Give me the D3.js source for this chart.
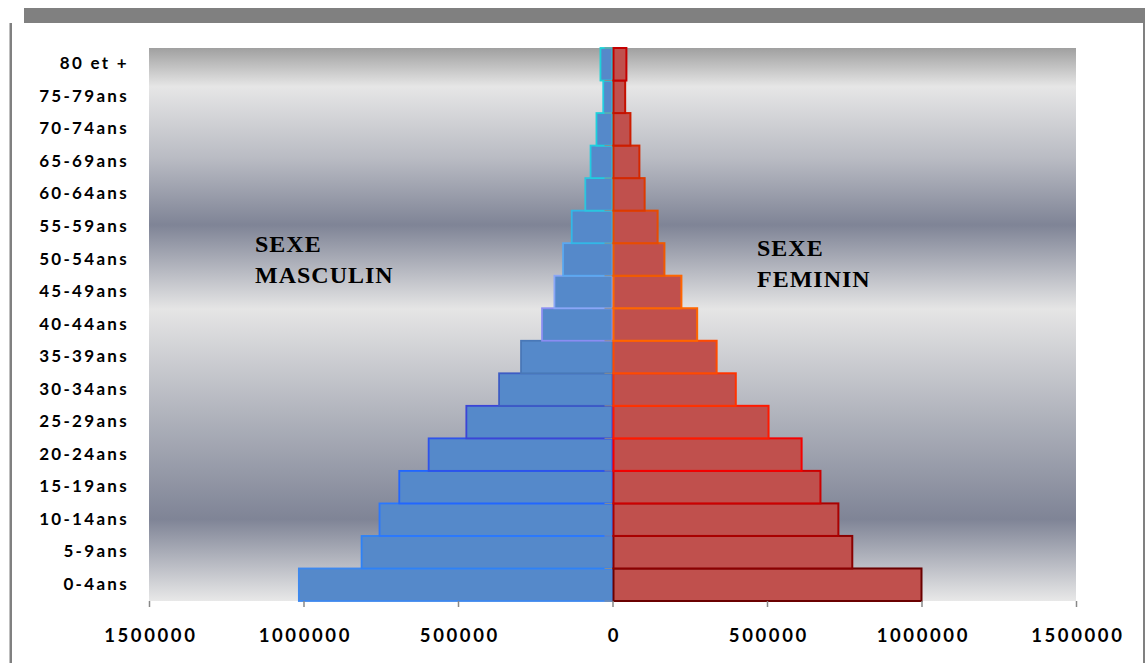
<!DOCTYPE html>
<html>
<head>
<meta charset="utf-8">
<script src="https://cdn.jsdelivr.net/npm/d3@7"></script>
<style>
  html, body { margin: 0; padding: 0; background: #ffffff; }
  svg { display: block; }
</style>
</head>
<body>
<svg id="chart" width="1145" height="663"></svg>
<script>
// Age groups, youngest first
const ageGroups = ["0-4ans", "5-9ans", "10-14ans", "15-19ans", "20-24ans", "25-29ans",
  "30-34ans", "35-39ans", "40-44ans", "45-49ans", "50-54ans", "55-59ans",
  "60-64ans", "65-69ans", "70-74ans", "75-79ans", "80 et +"];

// Population by age group
const male = [1015000, 812000, 754000, 690000, 595000, 473000, 367000, 296000, 228000,
  188000, 160000, 132000, 88000, 71000, 52000, 30000, 39000];
const female = [1000000, 776000, 731000, 673000, 612000, 505000, 399000, 337000, 274000,
  223000, 168000, 146000, 104000, 87000, 58000, 41000, 45000];

// Axis tick values
const xTicks = [-1500000, -1000000, -500000, 0, 500000, 1000000, 1500000];

// Side captions
const maleCaption = ["SEXE", "MASCULIN"];
const femaleCaption = ["SEXE", "FEMININ"];

// Outline palettes, one colour per age group (youngest first)
const maleEdge = ["#3d88ee", "#2f82f6", "#2a78ff", "#2266ff", "#2f52ea", "#3a44d6", "#3c5cc4",
  "#4a78b8", "#8a8ef2", "#8aa6f6", "#5aa8f0", "#33b8e6", "#2ac6de", "#22cce0", "#1ed0dc",
  "#22cfe0", "#1ed4d8"];
const femaleEdge = ["#6a0000", "#8a0000", "#aa0000", "#cc0000", "#f40000", "#ff1a00", "#ff3300",
  "#ff4a00", "#ff6600", "#ff6600", "#f05a00", "#e84c00", "#dd3a00", "#d42800", "#cc1c00",
  "#c41000", "#c40000"];

const svg = d3.select("#chart");
const W = 1145, H = 663;
const plot = { left: 149, right: 1076, top: 48, bottom: 601 };

// Frame
svg.append("rect").attr("x", 0).attr("y", 0).attr("width", W).attr("height", H).attr("fill", "#ffffff");
svg.append("rect").attr("x", 24).attr("y", 8).attr("width", W - 24).attr("height", 15).attr("fill", "#808080");
svg.append("rect").attr("x", 9.5).attr("y", 23).attr("width", 2.5).attr("height", H - 23).attr("fill", "#808080");
svg.append("rect").attr("x", 1143).attr("y", 23).attr("width", 2).attr("height", H - 23).attr("fill", "#808080");

// Plot background gradient
const defs = svg.append("defs");
const grad = defs.append("linearGradient").attr("id", "bg")
  .attr("x1", 0).attr("y1", 0).attr("x2", 0).attr("y2", 1);
[[0, "#a0a0a0"], [0.07, "#e6e6e6"], [0.2, "#b9bbc3"], [0.32, "#7f8496"],
 [0.472, "#e5e5e5"], [0.66, "#b1b4bd"], [0.852, "#7f8496"], [1, "#e8e8e8"]]
  .forEach(([o, c]) => grad.append("stop").attr("offset", o).attr("stop-color", c));

const blur = defs.append("filter").attr("id", "soft")
  .attr("x", "-5%").attr("y", "-5%").attr("width", "110%").attr("height", "110%");
blur.append("feGaussianBlur").attr("stdDeviation", 0.5);

svg.append("rect")
  .attr("x", plot.left).attr("y", plot.top)
  .attr("width", plot.right - plot.left).attr("height", plot.bottom - plot.top)
  .attr("fill", "url(#bg)");

// Scales
const x = d3.scaleLinear().domain([-1500000, 1500000]).range([plot.left, plot.right]);
const y = d3.scaleBand().domain(ageGroups.slice().reverse())
  .range([plot.top, plot.bottom]).paddingInner(0).paddingOuter(0);

const rows = ageGroups.map((g, i) => ({ g, m: male[i], f: female[i], i }));

// Male bars
svg.append("g").selectAll("rect").data(rows).join("rect")
  .attr("x", d => x(-d.m))
  .attr("y", d => y(d.g))
  .attr("width", d => x(0) - x(-d.m))
  .attr("height", y.bandwidth())
  .attr("fill", "#5589ca")
  .attr("stroke", d => maleEdge[d.i])
  .attr("stroke-width", 1.8)
  .attr("filter", "url(#soft)");

// Category tick marks at band boundaries
const bounds = ageGroups.map(g => y(g)).concat([plot.bottom]);
svg.append("g").selectAll("line").data(bounds).join("line")
  .attr("x1", x(0) - 8).attr("x2", x(0))
  .attr("y1", d => d).attr("y2", d => d)
  .attr("stroke", "#8c8c8c").attr("stroke-width", 1);

// Female bars
svg.append("g").selectAll("rect").data(rows).join("rect")
  .attr("x", d => x(0) + 1)
  .attr("y", d => y(d.g))
  .attr("width", d => x(d.f) - x(0) - 1)
  .attr("height", y.bandwidth())
  .attr("fill", "#c0504d")
  .attr("stroke", d => femaleEdge[d.i])
  .attr("stroke-width", 2);

// X axis
const xAxis = d3.axisBottom(x)
  .tickValues(xTicks)
  .tickFormat(d => String(Math.abs(d)))
  .tickSizeInner(6).tickSizeOuter(0).tickPadding(22);
const gx = svg.append("g").attr("transform", `translate(0,${plot.bottom})`).call(xAxis);
gx.select(".domain").remove();
gx.selectAll(".tick line").attr("stroke", "#888888").attr("stroke-width", 1.5);
gx.selectAll(".tick text")
  .attr("fill", "#000000")
  .attr("dx", "1.3px")
  .style("font-family", "Lato, 'Open Sans', sans-serif")
  .style("font-weight", "bold")
  .style("font-size", "18.5px")
  .style("letter-spacing", "2.6px");

// Y axis (category labels)
const yAxis = d3.axisLeft(y).tickSize(0).tickPadding(20);
const gy = svg.append("g").attr("transform", `translate(${plot.left},0)`).call(yAxis);
gy.select(".domain").remove();
gy.selectAll(".tick text")
  .attr("fill", "#000000")
  .attr("dy", "0.3em")
  .style("font-family", "Lato, 'Open Sans', sans-serif")
  .style("font-weight", "bold")
  .style("font-size", "17px")
  .style("letter-spacing", "2.3px");

// Side captions
function caption(lines, x0, y0) {
  const t = svg.append("text")
    .attr("x", x0).attr("y", y0)
    .attr("fill", "#000000")
    .style("font-family", "'Liberation Serif', 'DejaVu Serif', serif")
    .style("font-weight", "bold")
    .style("font-size", "24px")
    .style("letter-spacing", "1px");
  lines.forEach((s, k) => t.append("tspan").attr("x", x0).attr("dy", k === 0 ? 0 : 31).text(s));
}
caption(maleCaption, 255, 252);
caption(femaleCaption, 757, 256);
</script>
</body>
</html>
